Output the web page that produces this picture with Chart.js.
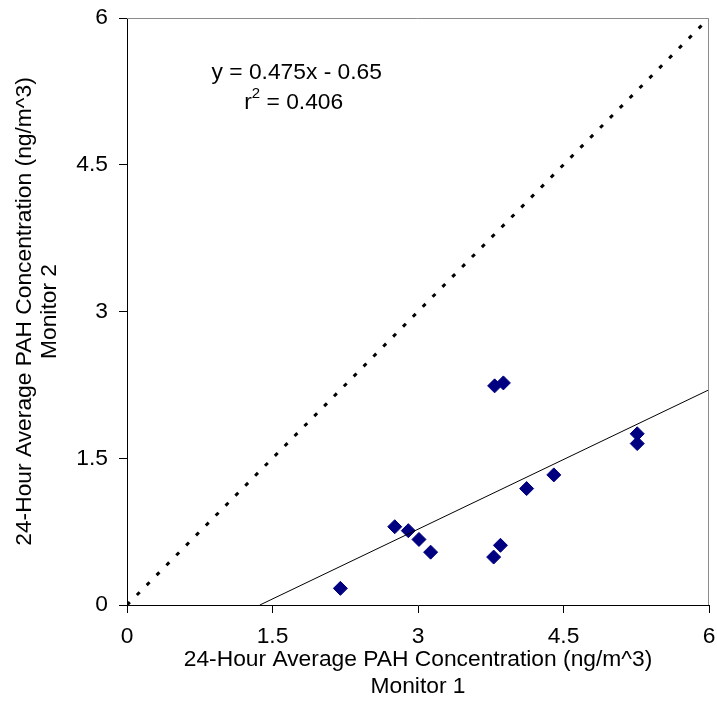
<!DOCTYPE html>
<html>
<head>
<meta charset="utf-8">
<script src="https://cdn.jsdelivr.net/npm/chart.js@4"></script>
<style>
  html, body { margin: 0; padding: 0; background: #fff; }
  #wrap { width: 717px; height: 703px; }
</style>
</head>
<body>
<div id="wrap"><canvas id="chart_pahMonitors"></canvas></div>
<script>
// Monitor 1 vs Monitor 2, 24-hour average PAH (ng/m^3)
var monitor1 = [2.20, 2.76, 2.90, 3.01, 3.13, 3.78, 3.85, 3.79, 3.88, 4.12, 4.40, 5.26, 5.26];
var monitor2 = [0.17, 0.80, 0.76, 0.67, 0.54, 0.49, 0.61, 2.24, 2.27, 1.19, 1.33, 1.75, 1.65];

// fitted line y = 0.475x - 0.65 (end points), and the 1:1 line
var trendX = [1.37, 6];
var trendY = [0, 2.2];
var oneToOneX = [0, 6];
var oneToOneY = [0, 6];

var tickValues = [0, 1.5, 3, 4.5, 6];
var eqLine1 = 'y = 0.475x - 0.65';
var eqLine2 = ' = 0.406';
var eqPos = { x: 1.75, y1: 5.44, y2: 5.13 };

function toPoints(xs, ys) {
    return xs.map(function (x, i) { return { x: x, y: ys[i] }; });
}

var FONT = '"Liberation Sans", Arial, sans-serif';
var FS = 22.8;

var chart_pahMonitors = new Chart(document.getElementById('chart_pahMonitors'), {
    type: 'scatter',
    data: {
        datasets: [
            {
                label: '1:1',
                type: 'line',
                data: toPoints(oneToOneX, oneToOneY),
                borderColor: '#000',
                borderWidth: 3,
                borderDash: [4, 10],
                pointRadius: 0,
                fill: false
            },
            {
                label: 'Trend',
                type: 'line',
                data: toPoints(trendX, trendY),
                borderColor: '#000',
                borderWidth: 1,
                pointRadius: 0,
                fill: false
            },
            {
                label: 'PAH',
                data: toPoints(monitor1, monitor2),
                pointStyle: 'rectRot',
                pointRadius: 7,
                backgroundColor: '#000080',
                borderColor: '#000080',
                borderWidth: 1
            }
        ]
    },
    options: {
        animation: false,
        responsive: true,
        maintainAspectRatio: false,
        layout: { padding: { top: 18, right: 6, left: 0, bottom: 0 } },
        plugins: {
            legend: { display: false },
            tooltip: { enabled: false }
        },
        scales: {
            x: {
                type: 'linear',
                min: 0,
                max: 6,
                afterBuildTicks: function (scale) {
                    scale.ticks = tickValues.map(function (v) { return { value: v }; });
                },
                afterFit: function (scale) {
                    scale.height = 98;
                    scale.paddingRight = 0;
                    scale.paddingLeft = 0;
                },
                border: { color: '#000', width: 1 },
                grid: { drawOnChartArea: false, color: '#000', tickLength: 8 },
                ticks: {
                    color: '#000',
                    padding: 10,
                    maxRotation: 0,
                    font: { family: FONT, size: FS },
                    callback: function (v) { return String(v); }
                },
                title: {
                    display: true,
                    text: ['24-Hour Average PAH Concentration (ng/m^3)', 'Monitor 1'],
                    color: '#000',
                    font: { family: FONT, size: FS, lineHeight: 1.22 },
                    padding: { top: 0, bottom: 2 }
                }
            },
            y: {
                type: 'linear',
                min: 0,
                max: 6,
                afterBuildTicks: function (scale) {
                    scale.ticks = tickValues.map(function (v) { return { value: v }; });
                },
                afterFit: function (scale) {
                    scale.width = 127;
                    scale.paddingTop = 0;
                    scale.paddingBottom = 0;
                },
                border: { color: '#000', width: 1 },
                grid: { drawOnChartArea: false, color: '#000', tickLength: 8 },
                ticks: {
                    color: '#000',
                    padding: 11,
                    font: { family: FONT, size: FS },
                    callback: function (v) { return String(v); }
                },
                title: {
                    display: true,
                    text: ['24-Hour Average PAH Concentration (ng/m^3)', 'Monitor 2'],
                    color: '#000',
                    font: { family: FONT, size: FS, lineHeight: 1.1 },
                    padding: { top: 12, bottom: 0 }
                }
            }
        }
    },
    plugins: [{
        id: 'whiteBg',
        beforeDraw: function (chart) {
            var ctx = chart.ctx;
            ctx.save();
            ctx.fillStyle = 'white';
            ctx.fillRect(0, 0, chart.width, chart.height);
            ctx.restore();
        }
    }, {
        id: 'frameAndEquation',
        afterDraw: function (chart) {
            var ctx = chart.ctx;
            var a = chart.chartArea;
            var xs = chart.scales.x, ys = chart.scales.y;
            ctx.save();
            // grey top and right frame
            ctx.strokeStyle = '#8c8c8c';
            ctx.lineWidth = 1;
            ctx.beginPath();
            ctx.moveTo(a.left, a.top + 0.5);
            ctx.lineTo(a.right - 0.5, a.top + 0.5);
            ctx.lineTo(a.right - 0.5, a.bottom);
            ctx.stroke();

            // equation label
            var big = FS + 'px ' + FONT;
            var small = '15px ' + FONT;
            ctx.fillStyle = '#000';
            ctx.textBaseline = 'middle';
            ctx.font = big;
            var cx = xs.getPixelForValue(eqPos.x);
            ctx.textAlign = 'center';
            ctx.fillText(eqLine1, cx, ys.getPixelForValue(eqPos.y1));

            var y2 = ys.getPixelForValue(eqPos.y2);
            var wR = ctx.measureText('r').width;
            ctx.font = small;
            var wSup = ctx.measureText('2').width;
            ctx.font = big;
            var wRest = ctx.measureText(eqLine2).width;
            var total = wR + wSup + wRest;
            var x0 = cx - total / 2 - 3;
            ctx.textAlign = 'left';
            ctx.fillText('r', x0, y2);
            ctx.font = small;
            ctx.fillText('2', x0 + wR, y2 - 9);
            ctx.font = big;
            ctx.fillText(eqLine2, x0 + wR + wSup, y2);
            ctx.restore();
        }
    }]
});
</script>
</body>
</html>
